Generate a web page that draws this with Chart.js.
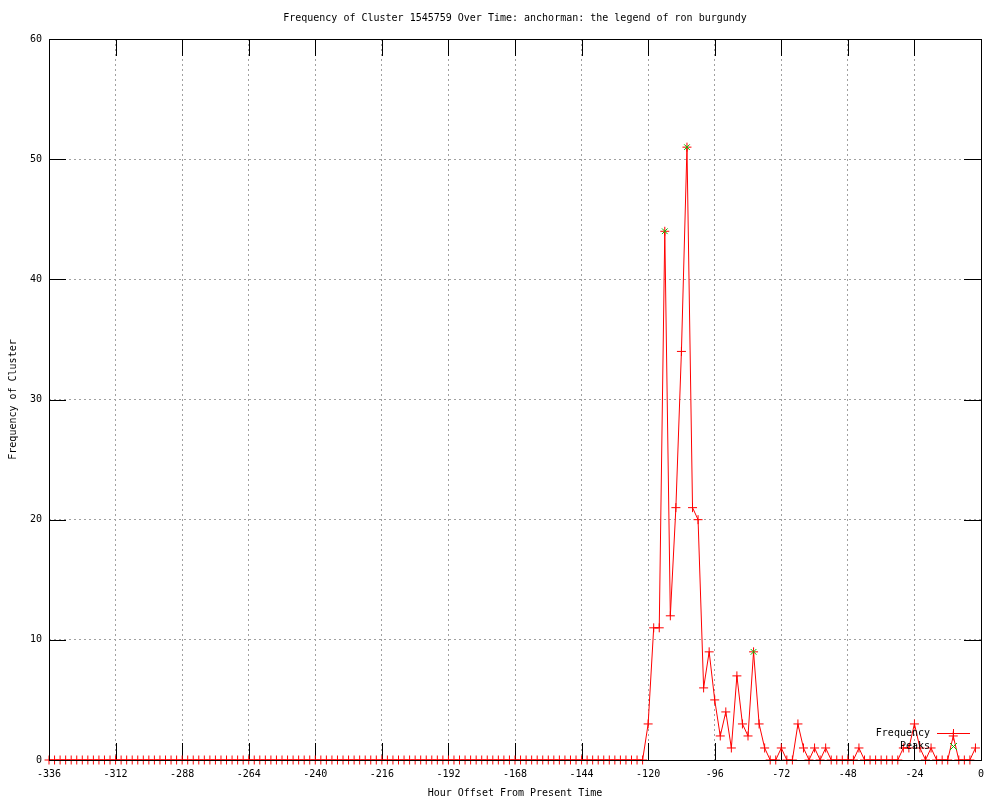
<!DOCTYPE html>
<html><head><meta charset="utf-8">
<script src="https://cdn.jsdelivr.net/npm/chart.js@4"></script>
<style>html,body{margin:0;padding:0;background:#fff}canvas{display:block}</style>
</head><body>
<canvas id="c" width="1000" height="800"></canvas>
<script>
const chartTitle = "Frequency of Cluster 1545759 Over Time: anchorman: the legend of ron burgundy";
const xTitle = "Hour Offset From Present Time";
const yTitle = "Frequency of Cluster";
const seriesNames = ["Frequency", "Peaks"];

const hours = [
  -336,-334,-332,-330,-328,-326,-324,-322,-320,-318,-316,-314,
  -312,-310,-308,-306,-304,-302,-300,-298,-296,-294,-292,-290,
  -288,-286,-284,-282,-280,-278,-276,-274,-272,-270,-268,-266,
  -264,-262,-260,-258,-256,-254,-252,-250,-248,-246,-244,-242,
  -240,-238,-236,-234,-232,-230,-228,-226,-224,-222,-220,-218,
  -216,-214,-212,-210,-208,-206,-204,-202,-200,-198,-196,-194,
  -192,-190,-188,-186,-184,-182,-180,-178,-176,-174,-172,-170,
  -168,-166,-164,-162,-160,-158,-156,-154,-152,-150,-148,-146,
  -144,-142,-140,-138,-136,-134,-132,-130,-128,-126,-124,-122,
  -120,-118,-116,-114,-112,-110,-108,-106,-104,-102,-100,-98,
  -96,-94,-92,-90,-88,-86,-84,-82,-80,-78,-76,-74,
  -72,-70,-68,-66,-64,-62,-60,-58,-56,-54,-52,-50,
  -48,-46,-44,-42,-40,-38,-36,-34,-32,-30,-28,-26,
  -24,-22,-20,-18,-16,-14,-12,-10,-8,-6,-4,-2
];
const frequency = [
  0,0,0,0,0,0,0,0,0,0,0,0,
  0,0,0,0,0,0,0,0,0,0,0,0,
  0,0,0,0,0,0,0,0,0,0,0,0,
  0,0,0,0,0,0,0,0,0,0,0,0,
  0,0,0,0,0,0,0,0,0,0,0,0,
  0,0,0,0,0,0,0,0,0,0,0,0,
  0,0,0,0,0,0,0,0,0,0,0,0,
  0,0,0,0,0,0,0,0,0,0,0,0,
  0,0,0,0,0,0,0,0,0,0,0,0,
  3,11,11,44,12,21,34,51,21,20,6,9,
  5,2,4,1,7,3,2,9,3,1,0,0,
  1,0,0,3,1,0,1,0,1,0,0,0,
  0,0,1,0,0,0,0,0,0,0,1,1,
  3,1,0,1,0,0,0,2,0,0,0,1
];
const peakHours = [-114, -106, -82];
const peakValues = [44, 51, 9];
const xTicks = [-336,-312,-288,-264,-240,-216,-192,-168,-144,-120,-96,-72,-48,-24,0];
const yTicks = [0,10,20,30,40,50,60];

const FAM = "'DejaVu Sans Mono','Liberation Mono',monospace";
const FONT = {family: FAM, size: 10, lineHeight: 1.2};
const RED = '#ff0000', GREEN = '#00c000', GRID = '#a0a0a0';
const TICK_LEN = 17;

const freqPoints = hours.map((h, i) => ({x: h, y: frequency[i]}));
const peakPoints = peakHours.map((h, i) => ({x: h, y: peakValues[i]}));

const framePlugin = {
  id: 'frame',
  beforeDatasetsDraw(chart) {
    const {ctx, chartArea: a, scales: {x, y}} = chart;
    ctx.save();
    ctx.strokeStyle = '#000'; ctx.lineWidth = 1; ctx.setLineDash([]);
    ctx.beginPath();
    xTicks.forEach(v => {
      const px = Math.round(x.getPixelForValue(v)) + 0.5;
      ctx.moveTo(px, a.bottom); ctx.lineTo(px, a.bottom - TICK_LEN);
      ctx.moveTo(px, a.top); ctx.lineTo(px, a.top + TICK_LEN);
    });
    yTicks.forEach(v => {
      const py = Math.round(y.getPixelForValue(v)) + 0.5;
      ctx.moveTo(a.left, py); ctx.lineTo(a.left + TICK_LEN, py);
      ctx.moveTo(a.right, py); ctx.lineTo(a.right - TICK_LEN, py);
    });
    ctx.stroke();
    ctx.restore();
  },
  afterDatasetsDraw(chart) {
    const {ctx, chartArea: a} = chart;
    ctx.save();
    ctx.strokeStyle = '#000'; ctx.lineWidth = 1; ctx.setLineDash([]);
    ctx.strokeRect(Math.floor(a.left) + 0.5, Math.floor(a.top) + 0.5,
                   Math.round(a.right - a.left), Math.round(a.bottom - a.top));
    // title
    ctx.fillStyle = '#000';
    ctx.font = '10px ' + FAM;
    ctx.textAlign = 'center'; ctx.textBaseline = 'middle';
    ctx.fillText(chartTitle, (a.left + a.right) / 2, 18);
    // legend (gnuplot style key, bottom right inside)
    ctx.textAlign = 'right';
    const tx = a.right - 51, r1 = a.bottom - 27, r2 = a.bottom - 14;
    ctx.fillText(seriesNames[0], tx, r1);
    ctx.fillText(seriesNames[1], tx, r2);
    const cx = a.right - 27.5;
    ctx.strokeStyle = RED;
    ctx.beginPath();
    ctx.moveTo(a.right - 44, r1 + 0.5); ctx.lineTo(a.right - 11, r1 + 0.5);
    ctx.moveTo(cx, r1 - 4); ctx.lineTo(cx, r1 + 5);
    ctx.stroke();
    ctx.strokeStyle = GREEN;
    ctx.beginPath();
    ctx.moveTo(cx - 3.5, r2 - 3); ctx.lineTo(cx + 3.5, r2 + 4);
    ctx.moveTo(cx + 3.5, r2 - 3); ctx.lineTo(cx - 3.5, r2 + 4);
    ctx.stroke();
    ctx.restore();
  }
};

new Chart(document.getElementById('c'), {
  type: 'line',
  data: {
    datasets: [
      {
        label: seriesNames[0], data: freqPoints, order: 1,
        borderColor: RED, borderWidth: 1, tension: 0, fill: false,
        pointStyle: 'cross', pointRadius: 4.5, pointBorderColor: RED,
        pointBorderWidth: 1, pointHoverRadius: 4.5, clip: false
      },
      {
        label: seriesNames[1], data: peakPoints, order: 0, showLine: false,
        pointStyle: 'crossRot', pointRadius: 4, pointBorderColor: GREEN,
        pointBackgroundColor: GREEN, pointBorderWidth: 1, clip: false
      }
    ]
  },
  options: {
    responsive: false, animation: false, devicePixelRatio: 1,
    layout: {padding: {top: 39, right: 19, bottom: 0, left: 0}},
    plugins: {legend: {display: false}, tooltip: {enabled: false}, title: {display: false}},
    scales: {
      x: {
        type: 'linear', min: -336, max: 0,
        afterBuildTicks: s => { s.ticks = xTicks.map(v => ({value: v})); },
        afterFit: s => { s.height = 40; },
        grid: {color: GRID, lineWidth: 1, drawTicks: false},
        border: {display: false, dash: [2, 3]},
        ticks: {color: '#000', font: FONT, padding: 8, maxRotation: 0, autoSkip: false,
                callback: v => String(v)},
        title: {display: true, text: xTitle, color: '#000', font: FONT, padding: {top: 0, bottom: 1}}
      },
      y: {
        type: 'linear', min: 0, max: 60,
        afterBuildTicks: s => { s.ticks = yTicks.map(v => ({value: v})); },
        afterFit: s => { s.width = 49; },
        grid: {color: GRID, lineWidth: 1, drawTicks: false},
        border: {display: false, dash: [2, 3]},
        ticks: {color: '#000', font: FONT, padding: 7, callback: v => String(v)},
        title: {display: true, text: yTitle, color: '#000', font: FONT, padding: {top: 7, bottom: 0}}
      }
    }
  },
  plugins: [framePlugin]
});
</script>
</body></html>
